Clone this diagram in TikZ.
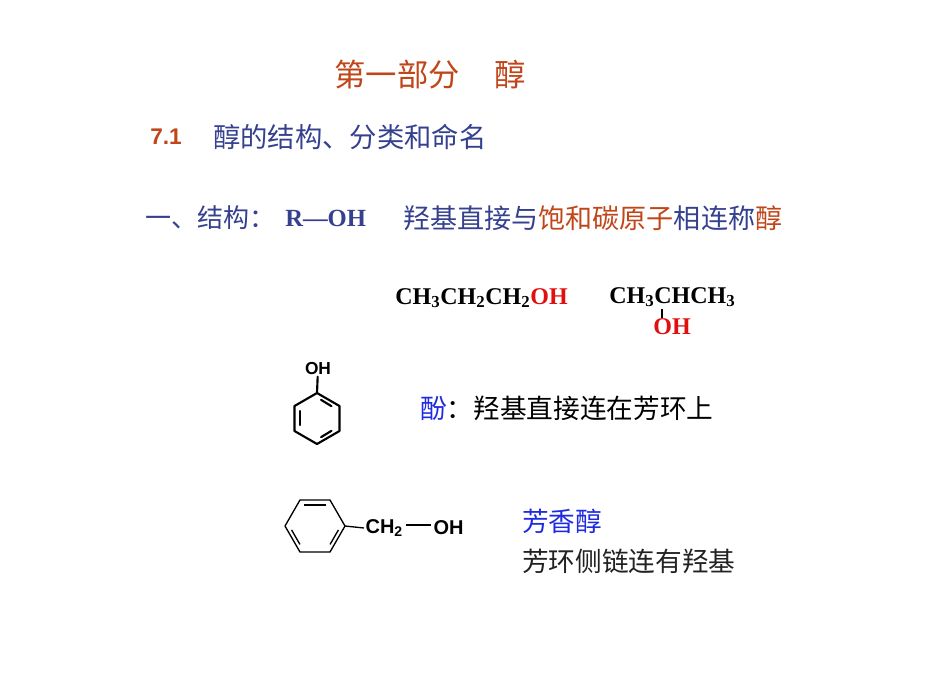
\documentclass[tikz,border=0pt]{standalone}
\usepackage{fontspec}
\usetikzlibrary{calc}
\setmainfont{Liberation Serif}
\setsansfont{Liberation Sans}
\newfontfamily\cjk{Noto Sans CJK SC}
\definecolor{ored}{HTML}{C0461A}
\definecolor{dblue}{HTML}{35408F}
\definecolor{bblue}{HTML}{1F2BE0}
\definecolor{dtext}{HTML}{222222}
\definecolor{hred}{HTML}{E01010}
\newcommand{\sbx}[1]{\textsubscript{\bfseries #1}}
\begin{document}
\begin{tikzpicture}[x=0.75pt,y=-0.75pt,
  txt/.style={inner sep=0pt,anchor=west},
  bond/.style={line width=1.6pt,line cap=round},
  thin/.style={line width=1pt}]
\useasboundingbox (0,0) rectangle (950,672);
% header
\node[txt,anchor=center,text=ored,font=\cjk\fontsize{23.5}{23.5}\selectfont] (title) at (430,75) {第一部分\hspace{1.1em}醇};
\node[txt,text=ored,font=\sffamily\bfseries\fontsize{17}{17}\selectfont] (num) at (150,137) {7.1};
\node[txt,text=dblue,font=\cjk\fontsize{20.5}{20.5}\selectfont] (sub) at (213,137) {醇的结构、分类和命名};
\node[txt,text=dblue,font=\cjk\fontsize{19.5}{19.5}\selectfont] (l3a) at (145,218) {一、结构：};
\node[txt,text=dblue,font=\bfseries\fontsize{18.5}{18.5}\selectfont] (roh) at (285,218) {R---OH};
\node[txt,font=\cjk\fontsize{20.3}{20.3}\selectfont] (l3b) at (403,218) {\textcolor{dblue}{羟基直接与}\textcolor{ored}{饱和碳原子}\textcolor{dblue}{相连称}\textcolor{ored}{醇}};
% formulas
\node[txt,font=\bfseries\fontsize{18}{18}\selectfont] (f1) at (395,298) {CH\sbx{3}CH\sbx{2}CH\sbx{2}\textcolor{hred}{OH}};
\node[txt,font=\bfseries\fontsize{18}{18}\selectfont] (f2) at (609,297) {CH\sbx{3}CHCH\sbx{3}};
\node[txt,anchor=center,text=hred,font=\bfseries\fontsize{18}{18}\selectfont] (f2oh) at (672,327) {OH};
\draw[thin] (662,309) -- (662,318);
% phenol
\node[anchor=center,inner sep=1pt,font=\sffamily\bfseries\fontsize{13}{13}\selectfont] (poh) at (318,369) {OH};
\coordinate (p1) at (317,393);
\coordinate (p2) at (339.5,406);
\coordinate (p3) at (339.5,431);
\coordinate (p4) at (317,444);
\coordinate (p5) at (294.5,431);
\coordinate (p6) at (294.5,406);
\draw[bond] (poh) -- (p1);
\draw[bond,line join=round] (p1)--(p2)--(p3)--(p4)--(p5)--(p6)--cycle;
\draw[bond] ($(p1)!0.18!(p2)+(0,4.5)$) -- ($(p2)!0.18!(p1)+(-4,2.5)$);
\draw[bond] (300,411) -- (300,425);
\draw[bond] ($(p3)!0.18!(p4)+(-4,-2.5)$) -- ($(p4)!0.18!(p3)+(0,-4.5)$);
\node[txt,font=\cjk\fontsize{20}{20}\selectfont] (phen) at (420,408) {\textcolor{bblue}{酚}：羟基直接连在芳环上};
% benzyl alcohol
\coordinate (b1) at (285,526);
\coordinate (b2) at (300,500);
\coordinate (b3) at (330,500);
\coordinate (b4) at (345,526);
\coordinate (b5) at (330,552);
\coordinate (b6) at (300,552);
\draw[thin,line join=round] (b1)--(b2)--(b3)--(b4)--(b5)--(b6)--cycle;
\draw[thin] (304,505) -- (326,505);
\draw[thin] ($(b4)!0.15!(b5)+(-4.3,0)$) -- ($(b5)!0.15!(b4)+(-2.2,-3.7)$);
\draw[thin] ($(b1)!0.15!(b6)+(4.3,0)$) -- ($(b6)!0.15!(b1)+(2.2,-3.7)$);
\node[anchor=west,inner sep=1pt,font=\sffamily\bfseries\fontsize{15}{15}\selectfont] (ch2) at (364,528) {CH\textsubscript{2}};
\node[anchor=west,inner sep=1pt,font=\sffamily\bfseries\fontsize{15}{15}\selectfont] (boh) at (432,528) {OH};
\draw[thin] (b4) -- (ch2.west);
\draw[thin] ($(ch2.east)+(1,-3)$) -- ($(boh.west)+(-1,-3)$);
\node[txt,text=bblue,font=\cjk\fontsize{20}{20}\selectfont] (ar) at (522,521) {芳香醇};
\node[txt,text=dtext,font=\cjk\fontsize{20}{20}\selectfont] (ar2) at (522,561) {芳环侧链连有羟基};
\end{tikzpicture}
\end{document}
